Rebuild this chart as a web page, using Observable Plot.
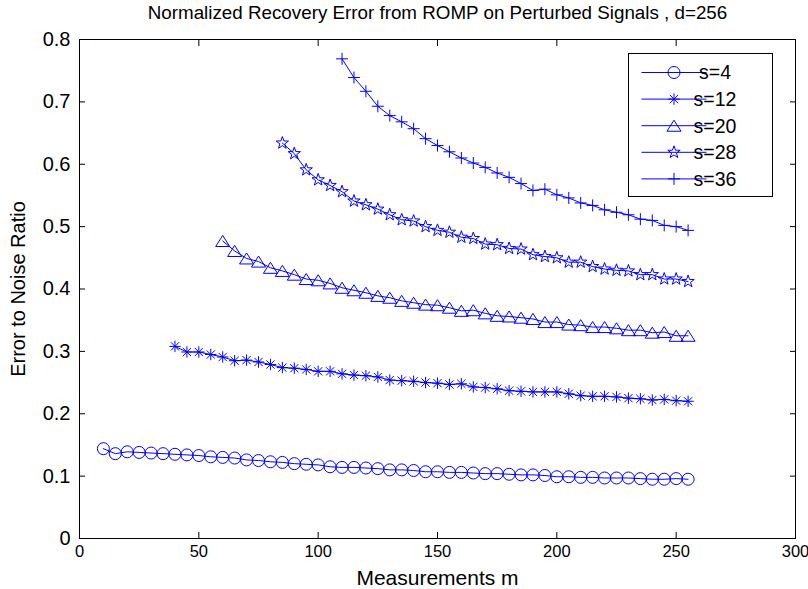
<!DOCTYPE html>
<html><head><meta charset="utf-8">
<script src="https://cdn.jsdelivr.net/npm/d3@7"></script>
<script src="https://cdn.jsdelivr.net/npm/@observablehq/plot@0.6"></script>
<style>
body{margin:0;background:#fff;}
#chart{position:relative;width:808px;height:589px;}
svg{overflow:visible}
</style></head><body><div id="chart"></div>
<script>
// ---- data ----
const titleText = "Normalized Recovery Error from ROMP on Perturbed Signals , d=256";
const xLabel = "Measurements m";
const yLabel = "Error to Noise Ratio";
const seriesNames = ["s=4", "s=12", "s=20", "s=28", "s=36"];
const xTicks = [0, 50, 100, 150, 200, 250, 300];
const yTicks = [0, 0.1, 0.2, 0.3, 0.4, 0.5, 0.6, 0.7, 0.8];
const mGrid = [10,15,20,25,30,35,40,45,50,55,60,65,70,75,80,85,90,95,100,105,
  110,115,120,125,130,135,140,145,150,155,160,165,170,175,180,185,190,195,200,205,
  210,215,220,225,230,235,240,245,250,255];
const startM = [10, 40, 60, 85, 110];
const s4 = [0.144,0.136,0.139,0.138,0.137,0.136,0.135,0.134,0.133,0.131,
  0.130,0.129,0.126,0.125,0.123,0.122,0.120,0.119,0.118,0.115,
  0.114,0.114,0.113,0.112,0.110,0.110,0.109,0.107,0.107,0.106,
  0.106,0.105,0.104,0.104,0.103,0.102,0.102,0.101,0.099,0.099,
  0.098,0.098,0.097,0.097,0.097,0.096,0.095,0.095,0.096,0.095];
const s12 = [0.308,0.299,0.299,0.295,0.291,0.285,0.286,0.283,0.279,0.274,
  0.273,0.271,0.268,0.268,0.264,0.262,0.261,0.259,0.254,0.253,
  0.252,0.250,0.249,0.247,0.248,0.243,0.242,0.240,0.237,0.236,
  0.235,0.235,0.235,0.232,0.229,0.228,0.228,0.227,0.225,0.224,
  0.222,0.223,0.221,0.220];
const s20 = [0.477,0.461,0.449,0.444,0.434,0.429,0.423,0.416,0.414,0.409,
  0.402,0.398,0.394,0.389,0.386,0.381,0.378,0.375,0.374,0.370,
  0.365,0.366,0.361,0.357,0.356,0.354,0.352,0.347,0.347,0.343,
  0.342,0.339,0.339,0.337,0.334,0.334,0.330,0.331,0.325,0.325];
const s28 = [0.634,0.617,0.591,0.575,0.566,0.556,0.541,0.535,0.528,0.519,
  0.511,0.509,0.500,0.494,0.491,0.483,0.481,0.472,0.471,0.465,
  0.464,0.455,0.452,0.450,0.443,0.443,0.436,0.432,0.430,0.429,
  0.423,0.423,0.416,0.416,0.412];
const s36 = [0.769,0.739,0.717,0.693,0.678,0.668,0.657,0.641,0.630,0.620,
  0.610,0.602,0.595,0.586,0.579,0.569,0.558,0.560,0.551,0.546,
  0.538,0.534,0.527,0.523,0.519,0.512,0.510,0.502,0.500,0.494];
const seriesValues = [s4, s12, s20, s28, s36];

// ---- MATLAB-like marker symbols ----
const rad = size => Math.sqrt(size / Math.PI);
const symCircle = {draw(c, size){ const r = rad(size); c.moveTo(r, 0); c.arc(0, 0, r, 0, 2*Math.PI); }};
const symAsterisk = {draw(c, size){ const r = rad(size)*0.95, d = r*0.72;
  c.moveTo(-r,0); c.lineTo(r,0); c.moveTo(0,-r); c.lineTo(0,r);
  c.moveTo(-d,-d); c.lineTo(d,d); c.moveTo(-d,d); c.lineTo(d,-d); }};
const symTriangle = {draw(c, size){ const r = rad(size);
  c.moveTo(0,-0.92*r); c.lineTo(1.17*r,0.92*r); c.lineTo(-1.17*r,0.92*r); c.closePath(); }};
const symStar = {draw(c, size){ const R = rad(size)*1.08, ri = R*0.40;
  for (let i = 0; i < 10; i++) { const a = -Math.PI/2 + i*Math.PI/5, rr = i%2 ? ri : R;
    const px = rr*Math.cos(a), py = rr*Math.sin(a); i ? c.lineTo(px,py) : c.moveTo(px,py); }
  c.closePath(); }};
const symPlus = {draw(c, size){ const r = rad(size);
  c.moveTo(-r,0); c.lineTo(r,0); c.moveTo(0,-r); c.lineTo(0,r); }};
const symbols = [symCircle, symAsterisk, symTriangle, symStar, symPlus];

// ---- table ----
const rows = [];
seriesNames.forEach((s, i) => {
  const start = mGrid.indexOf(startM[i]);
  seriesValues[i].forEach((v, j) => rows.push({s, m: mGrid[start + j], v}));
});

const blue = "#0000ff";
const font = "'Liberation Sans', Arial, Helvetica, sans-serif";
const fmt = d => d === 0 ? "0" : d3.format("~g")(d);

const marks = [
  Plot.frame({stroke: "#000", strokeWidth: 1}),
  Plot.axisX({ticks: xTicks, tickSize: 0, tickPadding: 7, tickFormat: fmt, label: null, fontSize: 16.5}),
  Plot.axisX({ticks: xTicks, anchor: "bottom", tickSize: -6, tickFormat: () => "", label: null}),
  Plot.axisX({ticks: xTicks, anchor: "top", tickSize: -6, tickFormat: () => "", label: null}),
  Plot.axisY({ticks: yTicks, tickSize: 0, tickPadding: 9, tickFormat: fmt, label: null, fontSize: 20}),
  Plot.axisY({ticks: yTicks, anchor: "left", tickSize: -6, tickFormat: () => "", label: null}),
  Plot.axisY({ticks: yTicks, anchor: "right", tickSize: -6, tickFormat: () => "", label: null}),
  Plot.text([titleText], {frameAnchor: "top", dy: -27, lineAnchor: "middle", textAnchor: "middle", fontSize: 18.8, fill: "#000"}),
  Plot.text([xLabel], {frameAnchor: "bottom", dy: 40, lineAnchor: "middle", textAnchor: "middle", fontSize: 21, fill: "#000"}),
  Plot.text([yLabel], {frameAnchor: "left", dx: -61, rotate: -90, lineAnchor: "middle", textAnchor: "middle", fontSize: 20, fill: "#000"})
];
seriesNames.forEach((s, i) => {
  const d = rows.filter(r => r.s === s);
  marks.push(Plot.line(d, {x: "m", y: "v", stroke: blue, strokeWidth: 1}));
  marks.push(Plot.dot(d, {x: "m", y: "v", symbol: symbols[i], r: 6, stroke: blue, fill: "none", strokeWidth: 1}));
});

const chart = Plot.plot({
  width: 808, height: 589,
  marginLeft: 79, marginRight: 13, marginTop: 39, marginBottom: 51,
  style: {fontFamily: font, fontSize: "19px", color: "#000", background: "#fff"},
  x: {domain: [0, 300]},
  y: {domain: [0, 0.8]},
  marks
});
document.getElementById("chart").appendChild(chart);

// ---- legend (drawn inside the plot svg) ----
const svg = d3.select(chart);
const lg = svg.append("g").attr("font-family", font).attr("font-size", 19.5);
const bx = 628.5, by = 53.5, bw = 144, bh = 143;
lg.append("rect").attr("x", bx).attr("y", by).attr("width", bw).attr("height", bh)
  .attr("fill", "#fff").attr("stroke", "#000");
seriesNames.forEach((s, i) => {
  const cy = by + 19 + i * 26.6;
  lg.append("line").attr("x1", bx + 13).attr("x2", bx + 78).attr("y1", cy).attr("y2", cy)
    .attr("stroke", blue).attr("stroke-width", 1);
  lg.append("path").attr("transform", `translate(${bx + 45.5},${cy})`)
    .attr("d", d3.symbol(symbols[i], 36 * Math.PI)()).attr("fill", "none").attr("stroke", blue);
  lg.append("text").attr("x", bx + 86.5).attr("y", cy).attr("dy", "0.35em").text(s);
});
</script></body></html>
